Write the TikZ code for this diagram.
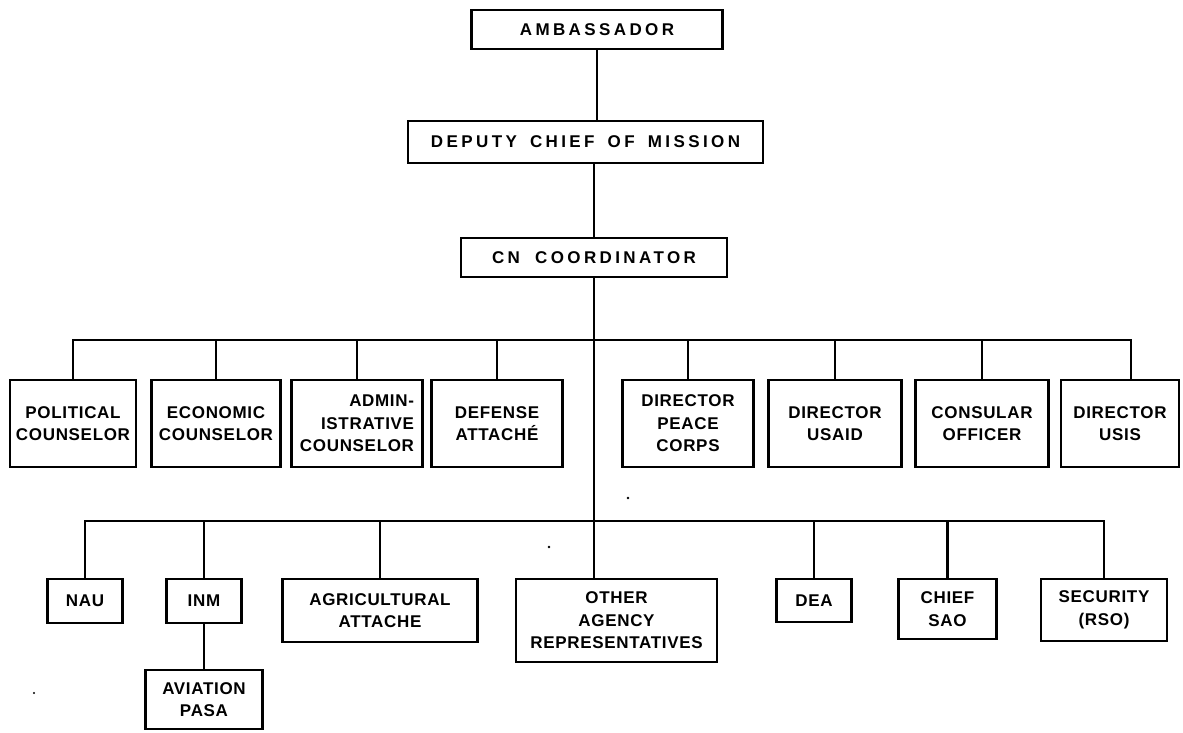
\documentclass[tikz,border=0pt]{standalone}
\usepackage{fontspec}
\setmainfont{Liberation Sans}
\newfontfamily\rowfont{Liberation Sans}[LetterSpace=4]
\newfontfamily\topfont{Liberation Sans}[LetterSpace=20]
\newcommand{\wsp}{\hspace{5pt}}
\begin{document}
\begin{tikzpicture}[x=1pt,y=-1pt,
  box/.style={draw, line width=2.6pt, inner sep=0pt, align=center,
    font=\rowfont\bfseries\fontsize{17}{22.5}\selectfont},
  topbox/.style={box, font=\topfont\bfseries\fontsize{17}{22.5}\selectfont},
  link/.style={line width=2.1pt}]
\useasboundingbox (0,0) rectangle (1183,732);
\fill[white] (0,0) rectangle (1183,732);

% top chain
\node[topbox, minimum width=251pt, minimum height=39pt] (amb) at (597,29.5) {AMBASSADOR};
\node[topbox, minimum width=355pt, minimum height=42pt] (dcm) at (585.5,142) {DEPUTY\wsp{} CHIEF\wsp{} OF\wsp{} MISSION};
\node[topbox, minimum width=266pt, minimum height=39pt] (cn) at (594,257.5) {CN\hspace{7pt} COORDINATOR};

% first row
\node[box, minimum width=126pt, minimum height=87pt] (pol) at (73,423.5) {POLITICAL\\COUNSELOR};
\node[box, minimum width=129pt, minimum height=87pt] (econ) at (216,423.5) {ECONOMIC\\COUNSELOR};
\node[box, minimum width=131pt, minimum height=87pt, align=right] (admin) at (357,423.5) {ADMIN-\\ISTRATIVE\\COUNSELOR};
\node[box, minimum width=131pt, minimum height=87pt] (def) at (497,423.5) {DEFENSE\\ATTACHÉ};
\node[box, minimum width=131pt, minimum height=87pt] (peace) at (688,423.5) {DIRECTOR\\PEACE\\CORPS};
\node[box, minimum width=133pt, minimum height=87pt] (usaid) at (835,423.5) {DIRECTOR\\USAID};
\node[box, minimum width=133pt, minimum height=87pt] (consul) at (982,423.5) {CONSULAR\\OFFICER};
\node[box, minimum width=118pt, minimum height=87pt] (usis) at (1120,423.5) {DIRECTOR\\USIS};

% second row
\node[box, minimum width=75pt, minimum height=44pt] (nau) at (85,601) {NAU};
\node[box, minimum width=75pt, minimum height=44pt] (inm) at (204,601) {INM};
\node[box, minimum width=195pt, minimum height=63pt] (agri) at (380,610.5) {AGRICULTURAL\\ATTACHE};
\node[box, minimum width=201pt, minimum height=83pt] (oth) at (616.5,620.5) {OTHER\\AGENCY\\REPRESENTATIVES};
\node[box, minimum width=75pt, minimum height=43pt] (dea) at (814,600.5) {DEA};
\node[box, minimum width=98pt, minimum height=60pt] (chief) at (947.5,609) {CHIEF\\SAO};
\node[box, minimum width=126pt, minimum height=62pt] (sec) at (1104,610) {SECURITY\\(RSO)};
\node[box, minimum width=117pt, minimum height=59pt] (avi) at (204,699.5) {AVIATION\\PASA};

% connectors
\coordinate (bus1) at (0,340);
\coordinate (bus2) at (0,521);
\coordinate (usisdrop) at ([xshift=11pt]usis.north);

\draw[link] (amb.south) -- (amb.south |- dcm.north);
\draw[link] (dcm.south -| cn.north) -- (cn.north);
\draw[link] (cn.south) -- (cn.south |- oth.north);

\draw[link] (pol.north) -- (pol.north |- bus1) -- (usisdrop |- bus1) -- (usisdrop);
\foreach \n in {econ,admin,def,peace,usaid,consul}
  \draw[link] (\n.north) -- (\n.north |- bus1);

\draw[link] (nau.north) -- (nau.north |- bus2) -- (sec.north |- bus2) -- (sec.north);
\foreach \n in {inm,agri,dea,chief}
  \draw[link] (\n.north) -- (\n.north |- bus2);
\draw[link] (inm.south) -- (avi.north);

% stray specks of the print
\fill (628,498) circle (1.4pt);
\fill (549,547) circle (1.4pt);
\fill (34,693) circle (1.2pt);
\end{tikzpicture}
\end{document}
